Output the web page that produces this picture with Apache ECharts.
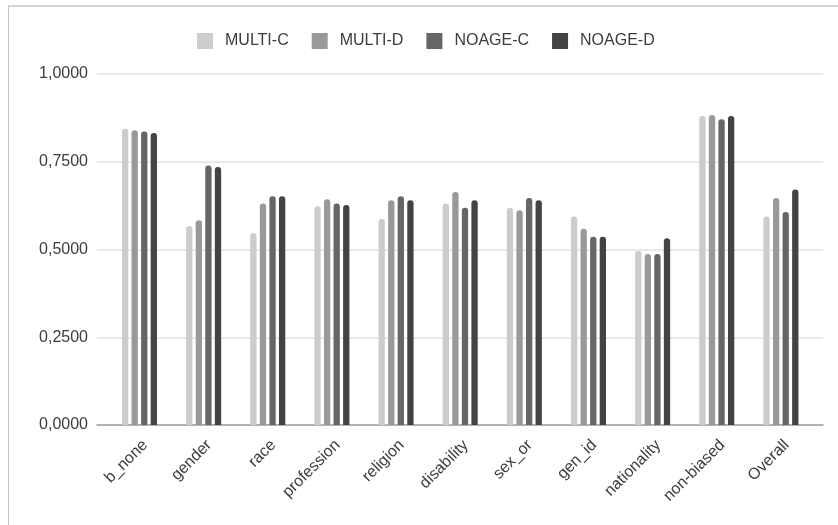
<!DOCTYPE html>
<html>
<head>
<meta charset="utf-8">
<script src="https://cdn.jsdelivr.net/npm/echarts@6/dist/echarts.min.js"></script>
<style>
html,body{margin:0;padding:0;background:#fff;}
#wrap{position:relative;width:838px;height:525px;}
#chart{width:838px;height:525px;}
#frame{position:absolute;left:8px;top:5px;right:0;bottom:0;border-left:1px solid #c4c4c4;border-top:2px solid #d4d4d4;pointer-events:none;}
</style>
</head>
<body>
<div id="wrap"><div id="chart"></div><div id="frame"></div></div>
<script>
const categories = ['b_none','gender','race','profession','religion','disability','sex_or','gen_id','nationality','non-biased','Overall'];
const seriesNames = ['MULTI-C','MULTI-D','NOAGE-C','NOAGE-D'];
const multiC = [0.844, 0.567, 0.547, 0.623, 0.587, 0.631, 0.619, 0.594, 0.496, 0.880, 0.594];
const multiD = [0.840, 0.583, 0.631, 0.643, 0.640, 0.664, 0.612, 0.559, 0.487, 0.883, 0.647];
const noageC = [0.836, 0.739, 0.652, 0.631, 0.652, 0.619, 0.647, 0.536, 0.487, 0.871, 0.607];
const noageD = [0.832, 0.735, 0.652, 0.627, 0.640, 0.640, 0.640, 0.536, 0.532, 0.880, 0.671];
const yTicks = [0, 0.25, 0.5, 0.75, 1];
const colors = ['#cccccc','#999999','#666666','#434343'];

const FONT = '"Liberation Sans", Arial, sans-serif';
const chart = echarts.init(document.getElementById('chart'), null, {renderer:'canvas'});
const seriesData = [multiC, multiD, noageC, noageD];

chart.setOption({
  animation:false,
  color:colors,
  textStyle:{fontFamily:FONT},
  legend:{
    left:197, top:33, padding:0,
    itemWidth:16, itemHeight:16, itemGap:23,
    icon:'rect',
    data:seriesNames,
    textStyle:{fontSize:16, color:'#3c3c3c', fontFamily:FONT, padding:[0,0,0,7]}
  },
  grid:[
    {left:97, right:15, top:74, bottom:100},
    {left:107.4, right:25, top:74, bottom:100}
  ],
  xAxis:[
    {gridIndex:0, type:'value', min:0, max:1, show:true,
     axisLine:{show:true, lineStyle:{color:'#9e9e9e', width:1.5}},
     axisTick:{show:false}, axisLabel:{show:false}, splitLine:{show:false}},
    {gridIndex:1, type:'category', data:categories,
     axisLine:{show:false}, axisTick:{show:false},
     axisLabel:{rotate:45, fontSize:16, color:'#3c3c3c', fontFamily:FONT, margin:12,
       verticalAlign:'top', interval:0}}
  ],
  yAxis:[
    {gridIndex:0, type:'value', min:yTicks[0], max:yTicks[yTicks.length-1], interval:0.25,
     axisLine:{show:false}, axisTick:{show:false},
     axisLabel:{fontSize:16, color:'#3c3c3c', fontFamily:FONT, margin:9,
       formatter:v=>v.toFixed(4).replace('.',',')},
     splitLine:{lineStyle:{color:'#e2e2e2', width:1.5}}},
    {gridIndex:1, type:'value', min:0, max:1, show:false, splitLine:{show:false}}
  ],
  series: seriesNames.map((n,i)=>({
    name:n, type:'bar', xAxisIndex:1, yAxisIndex:1,
    data:seriesData[i], barWidth:6.3, barGap:'52%',
    itemStyle:{color:colors[i], borderRadius:[3,3,0,0]},
    z:3
  }))
});
</script>
</body>
</html>
